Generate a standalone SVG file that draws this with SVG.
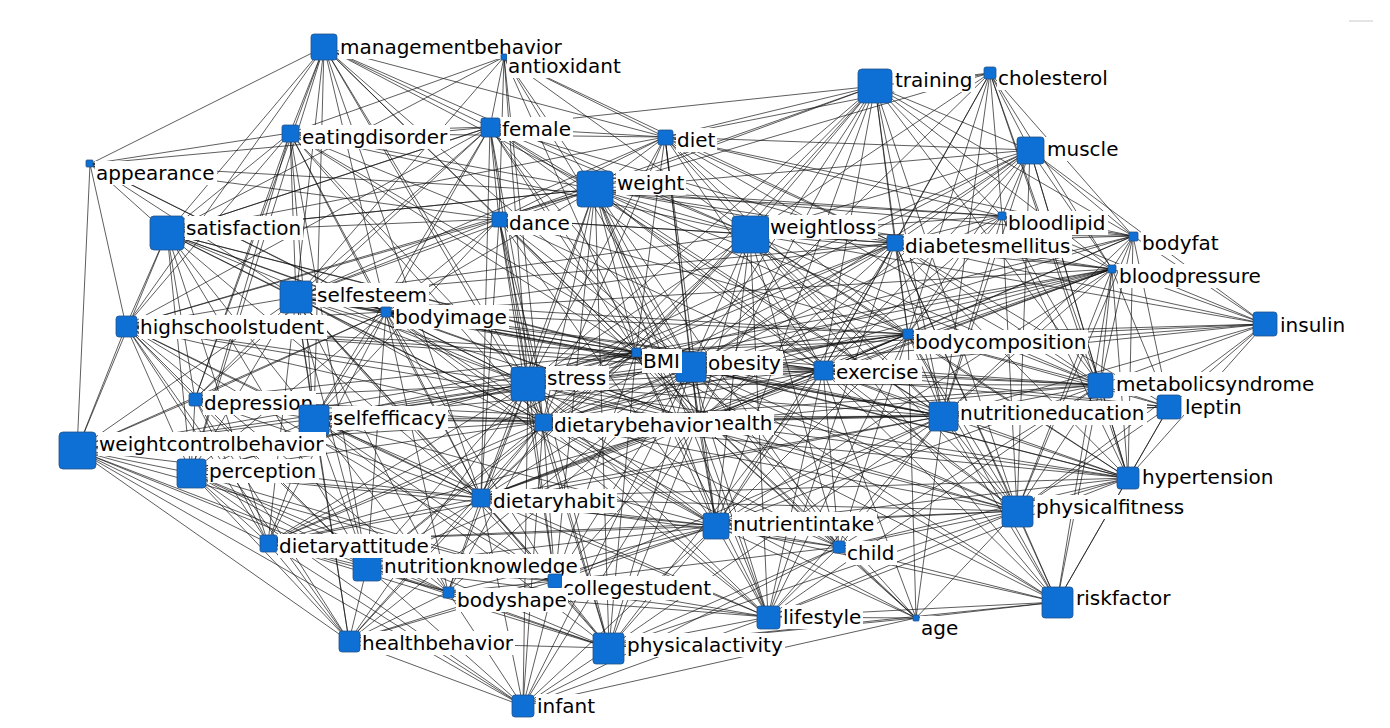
<svg xmlns="http://www.w3.org/2000/svg" width="1390" height="728" viewBox="0 0 1390 728">
<style>
.e{fill:none;stroke:#111;stroke-width:0.75;stroke-opacity:0.9}
.n{fill:#0e6fd4;stroke:#23548c;stroke-width:0.8}
.b{fill:#fff}
.t{font-family:"DejaVu Sans","Liberation Sans",sans-serif;font-size:20px;fill:#000}
</style>
<rect width="1390" height="728" fill="#fff"/>
<rect x="1349" y="20" width="24" height="2" fill="#e4e4e4"/>
<g id="connectors" class="e">
<path d="M324 47L90 164M324 47L290 133M324 47L167 233M324 47L296 297M324 47L126 326M324 47L386 312M324 47L490 127M324 47L499 219M324 47L595 189M324 47L528 384M324 47L543 422M324 47L665 137M324 47L750 234M324 47L314 419M324 47L195 399M324 47L691 367M324 47L636 352M324 47L191 473M324 47L481 498"/>
<path d="M504 57L490 127M504 57L290 133M504 57L499 219M504 57L167 233M504 57L595 189M504 57L665 137M504 57L528 384M504 57L296 297M504 57L750 234M504 57L895 243M504 57L691 367M504 57L636 352M504 57L543 422"/>
<path d="M90 164L290 133M90 164L167 233M90 164L296 297M90 164L126 326M90 164L386 312M90 164L77 450M90 164L528 384M90 164L1002 216M90 164L499 219M90 164L490 127"/>
<path d="M875 86L665 137M875 86L595 189M875 86L750 234M875 86L895 243M875 86L908 334M875 86L823 370M875 86L691 367M875 86L636 352M875 86L1030 150M875 86L1002 216M875 86L1133 236M875 86L1112 269M875 86L1100 385M875 86L943 416M875 86L1017 511M875 86L528 384M875 86L698 422M875 86L543 422M875 86L490 127M875 86L990 73M875 86L716 526M875 86L499 219"/>
<path d="M990 73L1030 150M990 73L1002 216M990 73L895 243M990 73L908 334M990 73L1133 236M990 73L1112 269M990 73L1100 385M990 73L750 234M990 73L943 416M990 73L595 189M990 73L823 370M990 73L665 137M990 73L691 367M990 73L1128 478"/>
<path d="M1030 150L1002 216M1030 150L1133 236M1030 150L1112 269M1030 150L895 243M1030 150L908 334M1030 150L1100 385M1030 150L943 416M1030 150L750 234M1030 150L823 370M1030 150L595 189M1030 150L665 137M1030 150L691 367M1030 150L1017 511M1030 150L636 352M1030 150L1265 324M1030 150L528 384M1030 150L1128 478M1030 150L698 422"/>
<path d="M290 133L167 233M290 133L296 297M290 133L126 326M290 133L386 312M290 133L499 219M290 133L490 127M290 133L665 137M290 133L595 189M290 133L528 384M290 133L543 422M290 133L314 419M290 133L195 399M290 133L481 498M290 133L691 367M290 133L636 352M290 133L750 234M290 133L191 473M290 133L367 567"/>
<path d="M490 127L499 219M490 127L665 137M490 127L595 189M490 127L528 384M490 127L296 297M490 127L167 233M490 127L386 312M490 127L126 326M490 127L543 422M490 127L481 498M490 127L691 367M490 127L636 352M490 127L750 234M490 127L895 243M490 127L314 419M490 127L195 399M490 127L823 370M490 127L943 416M490 127L698 422"/>
<path d="M665 137L595 189M665 137L750 234M665 137L499 219M665 137L528 384M665 137L691 367M665 137L636 352M665 137L895 243M665 137L908 334M665 137L823 370M665 137L698 422M665 137L716 526M665 137L943 416M665 137L1100 385M665 137L1002 216M665 137L1133 236M665 137L296 297M665 137L167 233M665 137L543 422"/>
<path d="M595 189L750 234M595 189L499 219M595 189L528 384M595 189L691 367M595 189L636 352M595 189L895 243M595 189L908 334M595 189L823 370M595 189L943 416M595 189L296 297M595 189L167 233M595 189L386 312M595 189L126 326M595 189L543 422M595 189L481 498M595 189L698 422M595 189L716 526M595 189L609 648M595 189L768 617M595 189L1100 385M595 189L1112 269M595 189L1002 216M595 189L1133 236M595 189L555 581M595 189L1017 511M595 189L839 547"/>
<path d="M750 234L895 243M750 234L908 334M750 234L823 370M750 234L691 367M750 234L636 352M750 234L528 384M750 234L943 416M750 234L1100 385M750 234L1112 269M750 234L1133 236M750 234L1002 216M750 234L1017 511M750 234L698 422M750 234L716 526M750 234L768 617M750 234L543 422M750 234L481 498M750 234L296 297M750 234L1128 478M750 234L1265 324M750 234L1057 602M750 234L839 547"/>
<path d="M167 233L296 297M167 233L386 312M167 233L126 326M167 233L499 219M167 233L528 384M167 233L543 422M167 233L314 419M167 233L195 399M167 233L191 473M167 233L77 450M167 233L481 498M167 233L691 367M167 233L636 352M167 233L595 189M167 233L367 567M167 233L268 543M167 233L698 422M167 233L490 127"/>
<path d="M499 219L528 384M499 219L296 297M499 219L386 312M499 219L543 422M499 219L481 498M499 219L691 367M499 219L636 352M499 219L750 234M499 219L126 326M499 219L314 419M499 219L609 648M499 219L555 581M499 219L716 526M499 219L823 370M499 219L698 422M499 219L895 243M499 219L908 334"/>
<path d="M296 297L386 312M296 297L126 326M296 297L528 384M296 297L543 422M296 297L314 419M296 297L195 399M296 297L191 473M296 297L77 450M296 297L481 498M296 297L691 367M296 297L636 352M296 297L823 370M296 297L698 422M296 297L367 567M296 297L268 543M296 297L448 592M296 297L555 581M296 297L716 526M296 297L609 648M296 297L349 641M296 297L943 416M296 297L908 334M296 297L895 243"/>
<path d="M386 312L126 326M386 312L528 384M386 312L543 422M386 312L314 419M386 312L195 399M386 312L191 473M386 312L77 450M386 312L481 498M386 312L691 367M386 312L636 352M386 312L823 370M386 312L698 422M386 312L367 567M386 312L448 592M386 312L268 543M386 312L716 526M386 312L943 416M386 312L908 334M386 312L895 243M386 312L1112 269M386 312L768 617M386 312L555 581"/>
<path d="M126 326L314 419M126 326L195 399M126 326L191 473M126 326L77 450M126 326L268 543M126 326L349 641M126 326L528 384M126 326L543 422M126 326L481 498M126 326L691 367M126 326L636 352M126 326L367 567M126 326L448 592M126 326L555 581M126 326L698 422M126 326L823 370"/>
<path d="M895 243L908 334M895 243L823 370M895 243L691 367M895 243L636 352M895 243L528 384M895 243L943 416M895 243L1100 385M895 243L1112 269M895 243L1133 236M895 243L1002 216M895 243L1017 511M895 243L698 422M895 243L716 526M895 243L1128 478M895 243L1265 324M895 243L1169 407M895 243L1057 602M895 243L543 422M895 243L768 617"/>
<path d="M1002 216L1133 236M1002 216L1112 269M1002 216L908 334M1002 216L1100 385M1002 216L943 416M1002 216L823 370M1002 216L691 367M1002 216L1128 478M1002 216L1265 324M1002 216L1017 511"/>
<path d="M1133 236L1112 269M1133 236L908 334M1133 236L1100 385M1133 236L943 416M1133 236L823 370M1133 236L691 367M1133 236L1265 324M1133 236L1017 511M1133 236L1128 478M1133 236L1169 407M1133 236L528 384"/>
<path d="M1112 269L908 334M1112 269L1100 385M1112 269L943 416M1112 269L823 370M1112 269L691 367M1112 269L1265 324M1112 269L1017 511M1112 269L1128 478M1112 269L1169 407M1112 269L528 384M1112 269L636 352M1112 269L698 422M1112 269L716 526M1112 269L1057 602M1112 269L543 422M1112 269L481 498"/>
<path d="M1265 324L908 334M1265 324L1100 385M1265 324L943 416M1265 324L691 367M1265 324L823 370M1265 324L1169 407M1265 324L1017 511M1265 324L1128 478M1265 324L636 352"/>
<path d="M908 334L823 370M908 334L691 367M908 334L636 352M908 334L528 384M908 334L943 416M908 334L1100 385M908 334L1017 511M908 334L698 422M908 334L716 526M908 334L1128 478M908 334L1169 407M908 334L543 422M908 334L481 498M908 334L1057 602M908 334L839 547M908 334L768 617M908 334L916 618M908 334L314 419"/>
<path d="M636 352L691 367M636 352L528 384M636 352L823 370M636 352L943 416M636 352L1100 385M636 352L543 422M636 352L481 498M636 352L698 422M636 352L716 526M636 352L314 419M636 352L195 399M636 352L191 473M636 352L77 450M636 352L839 547M636 352L768 617M636 352L609 648M636 352L555 581M636 352L1017 511M636 352L1128 478M636 352L1057 602M636 352L916 618M636 352L268 543M636 352L367 567"/>
<path d="M691 367L528 384M691 367L823 370M691 367L943 416M691 367L1100 385M691 367L543 422M691 367L481 498M691 367L698 422M691 367L716 526M691 367L839 547M691 367L768 617M691 367L609 648M691 367L1017 511M691 367L1128 478M691 367L1057 602M691 367L916 618M691 367L1169 407M691 367L314 419M691 367L268 543M691 367L555 581M691 367L448 592M691 367L349 641M691 367L523 706"/>
<path d="M528 384L543 422M528 384L481 498M528 384L314 419M528 384L195 399M528 384L191 473M528 384L77 450M528 384L823 370M528 384L943 416M528 384L1100 385M528 384L698 422M528 384L716 526M528 384L839 547M528 384L768 617M528 384L609 648M528 384L1017 511M528 384L268 543M528 384L367 567M528 384L555 581M528 384L448 592M528 384L349 641M528 384L523 706M528 384L1128 478"/>
<path d="M823 370L943 416M823 370L1100 385M823 370L1017 511M823 370L698 422M823 370L716 526M823 370L1128 478M823 370L1169 407M823 370L768 617M823 370L839 547M823 370L916 618M823 370L1057 602M823 370L543 422M823 370L481 498M823 370L609 648M823 370L314 419"/>
<path d="M1100 385L943 416M1100 385L1169 407M1100 385L1128 478M1100 385L1017 511M1100 385L1057 602M1100 385L698 422M1100 385L716 526M1100 385L543 422M1100 385L839 547M1100 385L768 617"/>
<path d="M1169 407L943 416M1169 407L1128 478M1169 407L1017 511M1169 407L1057 602M1169 407L698 422"/>
<path d="M943 416L1017 511M943 416L1128 478M943 416L1057 602M943 416L716 526M943 416L698 422M943 416L839 547M943 416L768 617M943 416L916 618M943 416L609 648M943 416L543 422M943 416L481 498M943 416L555 581M943 416L268 543"/>
<path d="M195 399L314 419M195 399L191 473M195 399L77 450M195 399L268 543M195 399L543 422M195 399L481 498M195 399L367 567M195 399L698 422M195 399L349 641"/>
<path d="M314 419L77 450M314 419L191 473M314 419L543 422M314 419L481 498M314 419L268 543M314 419L367 567M314 419L448 592M314 419L555 581M314 419L698 422M314 419L716 526M314 419L349 641M314 419L609 648M314 419L768 617M314 419L943 416"/>
<path d="M77 450L191 473M77 450L268 543M77 450L349 641M77 450L367 567M77 450L481 498M77 450L543 422M77 450L448 592M77 450L555 581M77 450L523 706"/>
<path d="M543 422L698 422M543 422L481 498M543 422L716 526M543 422L191 473M543 422L268 543M543 422L367 567M543 422L555 581M543 422L448 592M543 422L349 641M543 422L609 648M543 422L768 617M543 422L839 547M543 422L523 706M543 422L1017 511M543 422L1128 478M543 422L916 618"/>
<path d="M698 422L481 498M698 422L716 526M698 422L839 547M698 422L768 617M698 422L609 648M698 422L1017 511M698 422L1128 478M698 422L1057 602M698 422L555 581M698 422L367 567M698 422L268 543M698 422L916 618M698 422L523 706"/>
<path d="M191 473L268 543M191 473L367 567M191 473L448 592M191 473L481 498M191 473L349 641M191 473L555 581M191 473L716 526M191 473L609 648M191 473L523 706"/>
<path d="M1128 478L1017 511M1128 478L1057 602M1128 478L716 526M1128 478L839 547M1128 478L768 617M1128 478L481 498"/>
<path d="M481 498L716 526M481 498L555 581M481 498L448 592M481 498L367 567M481 498L268 543M481 498L349 641M481 498L609 648M481 498L768 617M481 498L839 547M481 498L523 706M481 498L1017 511"/>
<path d="M1017 511L1057 602M1017 511L716 526M1017 511L839 547M1017 511L768 617M1017 511L916 618M1017 511L609 648M1017 511L268 543"/>
<path d="M716 526L839 547M716 526L768 617M716 526L609 648M716 526L555 581M716 526L448 592M716 526L367 567M716 526L916 618M716 526L1057 602M716 526L523 706M716 526L349 641M716 526L268 543"/>
<path d="M268 543L367 567M268 543L349 641M268 543L448 592M268 543L555 581M268 543L523 706M268 543L609 648"/>
<path d="M839 547L768 617M839 547L916 618M839 547L609 648M839 547L555 581M839 547L1057 602M839 547L523 706"/>
<path d="M367 567L448 592M367 567L555 581M367 567L349 641M367 567L523 706M367 567L609 648M367 567L768 617"/>
<path d="M555 581L448 592M555 581L609 648M555 581L523 706M555 581L349 641M555 581L768 617"/>
<path d="M448 592L609 648M448 592L349 641M448 592L523 706M448 592L768 617"/>
<path d="M1057 602L916 618M1057 602L768 617M1057 602L609 648M768 617L916 618M768 617L609 648M768 617L523 706M916 618L609 648M916 618L523 706M349 641L523 706M349 641L609 648M609 648L523 706"/>
</g>
<g id="nodes">
<g id="managementbehavior"><rect class="n" x="311" y="34" width="26" height="26" rx="3"/><rect class="b" x="339" y="35" width="225" height="24"/><text class="t" x="340" y="54">managementbehavior</text></g>
<g id="antioxidant"><rect class="n" x="501" y="54" width="6" height="6" rx="1"/><rect class="b" x="507" y="54" width="116" height="24"/><text class="t" x="508" y="73">antioxidant</text></g>
<g id="training"><rect class="n" x="858" y="69" width="34" height="34" rx="4"/><rect class="b" x="894" y="68" width="81" height="24"/><text class="t" x="895" y="87">training</text></g>
<g id="cholesterol"><rect class="n" x="984" y="67" width="12" height="12" rx="2"/><rect class="b" x="997" y="66" width="113" height="24"/><text class="t" x="998" y="85">cholesterol</text></g>
<g id="eatingdisorder"><rect class="n" x="282" y="125" width="17" height="17" rx="2"/><rect class="b" x="301" y="125" width="149" height="24"/><text class="t" x="302" y="144">eatingdisorder</text></g>
<g id="female"><rect class="n" x="481" y="118" width="19" height="19" rx="2"/><rect class="b" x="501" y="117" width="72" height="24"/><text class="t" x="502" y="136">female</text></g>
<g id="diet"><rect class="n" x="658" y="130" width="15" height="15" rx="2"/><rect class="b" x="676" y="128" width="41" height="24"/><text class="t" x="677" y="147">diet</text></g>
<g id="appearance"><rect class="n" x="86" y="160" width="7" height="7" rx="1"/><rect class="b" x="95" y="161" width="122" height="24"/><text class="t" x="96" y="180">appearance</text></g>
<g id="weight"><rect class="n" x="577" y="171" width="36" height="36" rx="4"/><rect class="b" x="616" y="171" width="70" height="24"/><text class="t" x="617" y="190">weight</text></g>
<g id="muscle"><rect class="n" x="1017" y="137" width="27" height="27" rx="3"/><rect class="b" x="1046" y="137" width="74" height="24"/><text class="t" x="1047" y="156">muscle</text></g>
<g id="satisfaction"><rect class="n" x="150" y="216" width="34" height="34" rx="4"/><rect class="b" x="185" y="216" width="118" height="24"/><text class="t" x="186" y="235">satisfaction</text></g>
<g id="dance"><rect class="n" x="492" y="212" width="15" height="15" rx="2"/><rect class="b" x="508" y="211" width="64" height="24"/><text class="t" x="509" y="230">dance</text></g>
<g id="weightloss"><rect class="n" x="732" y="216" width="37" height="37" rx="4"/><rect class="b" x="769" y="215" width="109" height="24"/><text class="t" x="770" y="234">weightloss</text></g>
<g id="bloodlipid"><rect class="n" x="998" y="212" width="8" height="8" rx="1"/><rect class="b" x="1007" y="211" width="101" height="24"/><text class="t" x="1008" y="230">bloodlipid</text></g>
<g id="diabetesmellitus"><rect class="n" x="887" y="235" width="16" height="16" rx="2"/><rect class="b" x="904" y="234" width="168" height="24"/><text class="t" x="905" y="253">diabetesmellitus</text></g>
<g id="bodyfat"><rect class="n" x="1129" y="232" width="9" height="9" rx="1"/><rect class="b" x="1141" y="231" width="80" height="24"/><text class="t" x="1142" y="250">bodyfat</text></g>
<g id="bloodpressure"><rect class="n" x="1108" y="265" width="8" height="8" rx="1"/><rect class="b" x="1118" y="264" width="146" height="24"/><text class="t" x="1119" y="283">bloodpressure</text></g>
<g id="selfesteem"><rect class="n" x="280" y="281" width="32" height="32" rx="3"/><rect class="b" x="316" y="283" width="113" height="24"/><text class="t" x="317" y="302">selfesteem</text></g>
<g id="bodyimage"><rect class="n" x="381" y="307" width="10" height="10" rx="1"/><rect class="b" x="394" y="305" width="115" height="24"/><text class="t" x="395" y="324">bodyimage</text></g>
<g id="highschoolstudent"><rect class="n" x="116" y="316" width="21" height="21" rx="3"/><rect class="b" x="139" y="315" width="188" height="24"/><text class="t" x="140" y="334">highschoolstudent</text></g>
<g id="insulin"><rect class="n" x="1253" y="312" width="24" height="24" rx="3"/><rect class="b" x="1279" y="313" width="68" height="24"/><text class="t" x="1280" y="332">insulin</text></g>
<g id="bodycomposition"><rect class="n" x="903" y="329" width="10" height="10" rx="1"/><rect class="b" x="914" y="330" width="174" height="24"/><text class="t" x="915" y="349">bodycomposition</text></g>
<g id="obesity"><rect class="n" x="676" y="352" width="30" height="30" rx="3"/><rect class="b" x="707" y="351" width="76" height="24"/><text class="t" x="708" y="370">obesity</text></g>
<g id="BMI"><rect class="n" x="632" y="348" width="9" height="9" rx="1"/><rect class="b" x="642" y="349" width="40" height="24"/><text class="t" x="643" y="368">BMI</text></g>
<g id="stress"><rect class="n" x="511" y="367" width="34" height="34" rx="4"/><rect class="b" x="546" y="366" width="63" height="24"/><text class="t" x="547" y="385">stress</text></g>
<g id="exercise"><rect class="n" x="814" y="361" width="19" height="19" rx="2"/><rect class="b" x="835" y="360" width="87" height="24"/><text class="t" x="836" y="379">exercise</text></g>
<g id="metabolicsyndrome"><rect class="n" x="1088" y="373" width="25" height="25" rx="3"/><rect class="b" x="1115" y="372" width="203" height="24"/><text class="t" x="1116" y="391">metabolicsyndrome</text></g>
<g id="leptin"><rect class="n" x="1157" y="395" width="24" height="24" rx="3"/><rect class="b" x="1184" y="395" width="60" height="24"/><text class="t" x="1185" y="414">leptin</text></g>
<g id="nutritioneducation"><rect class="n" x="929" y="402" width="29" height="29" rx="3"/><rect class="b" x="959" y="401" width="188" height="24"/><text class="t" x="960" y="420">nutritioneducation</text></g>
<g id="depression"><rect class="n" x="189" y="393" width="13" height="13" rx="2"/><rect class="b" x="203" y="391" width="113" height="24"/><text class="t" x="204" y="410">depression</text></g>
<g id="selfefficacy"><rect class="n" x="299" y="405" width="30" height="30" rx="3"/><rect class="b" x="332" y="406" width="116" height="24"/><text class="t" x="333" y="425">selfefficacy</text></g>
<g id="health"><rect class="n" x="691" y="415" width="14" height="14" rx="2"/><rect class="b" x="708" y="411" width="66" height="24"/><text class="t" x="709" y="430">health</text></g>
<g id="weightcontrolbehavior"><rect class="n" x="59" y="432" width="37" height="37" rx="4"/><rect class="b" x="98" y="432" width="228" height="24"/><text class="t" x="99" y="451">weightcontrolbehavior</text></g>
<g id="dietarybehavior"><rect class="n" x="535" y="414" width="17" height="17" rx="2"/><rect class="b" x="553" y="413" width="162" height="24"/><text class="t" x="554" y="432">dietarybehavior</text></g>
<g id="perception"><rect class="n" x="177" y="459" width="29" height="29" rx="3"/><rect class="b" x="208" y="459" width="111" height="24"/><text class="t" x="209" y="478">perception</text></g>
<g id="hypertension"><rect class="n" x="1117" y="467" width="22" height="22" rx="3"/><rect class="b" x="1141" y="465" width="134" height="24"/><text class="t" x="1142" y="484">hypertension</text></g>
<g id="dietaryhabit"><rect class="n" x="472" y="489" width="18" height="18" rx="2"/><rect class="b" x="492" y="489" width="125" height="24"/><text class="t" x="493" y="508">dietaryhabit</text></g>
<g id="physicalfitness"><rect class="n" x="1002" y="496" width="31" height="31" rx="3"/><rect class="b" x="1035" y="495" width="151" height="24"/><text class="t" x="1036" y="514">physicalfitness</text></g>
<g id="nutrientintake"><rect class="n" x="703" y="513" width="26" height="26" rx="3"/><rect class="b" x="732" y="512" width="145" height="24"/><text class="t" x="733" y="531">nutrientintake</text></g>
<g id="nutritionknowledge"><rect class="n" x="353" y="555" width="28" height="26" rx="3"/><rect class="b" x="383" y="554" width="197" height="24"/><text class="t" x="384" y="573">nutritionknowledge</text></g>
<g id="dietaryattitude"><rect class="n" x="260" y="535" width="17" height="17" rx="2"/><rect class="b" x="278" y="534" width="153" height="24"/><text class="t" x="279" y="553">dietaryattitude</text></g>
<g id="child"><rect class="n" x="833" y="541" width="12" height="12" rx="2"/><rect class="b" x="846" y="541" width="51" height="24"/><text class="t" x="847" y="560">child</text></g>
<g id="collegestudent"><rect class="n" x="548" y="574" width="14" height="14" rx="2"/><rect class="b" x="562" y="576" width="151" height="24"/><text class="t" x="563" y="595">collegestudent</text></g>
<g id="bodyshape"><rect class="n" x="443" y="587" width="11" height="11" rx="1"/><rect class="b" x="456" y="588" width="112" height="24"/><text class="t" x="457" y="607">bodyshape</text></g>
<g id="riskfactor"><rect class="n" x="1042" y="587" width="31" height="31" rx="3"/><rect class="b" x="1075" y="586" width="97" height="24"/><text class="t" x="1076" y="605">riskfactor</text></g>
<g id="lifestyle"><rect class="n" x="757" y="606" width="23" height="23" rx="3"/><rect class="b" x="782" y="605" width="81" height="24"/><text class="t" x="783" y="624">lifestyle</text></g>
<g id="age"><rect class="n" x="913" y="615" width="6" height="6" rx="1"/><rect class="b" x="920" y="616" width="40" height="24"/><text class="t" x="921" y="635">age</text></g>
<g id="healthbehavior"><rect class="n" x="339" y="631" width="21" height="21" rx="3"/><rect class="b" x="361" y="631" width="154" height="24"/><text class="t" x="362" y="650">healthbehavior</text></g>
<g id="physicalactivity"><rect class="n" x="593" y="633" width="31" height="31" rx="3"/><rect class="b" x="626" y="633" width="159" height="24"/><text class="t" x="627" y="652">physicalactivity</text></g>
<g id="infant"><rect class="n" x="512" y="695" width="22" height="22" rx="3"/><rect class="b" x="536" y="694" width="61" height="24"/><text class="t" x="537" y="713">infant</text></g>
</g>
</svg>
